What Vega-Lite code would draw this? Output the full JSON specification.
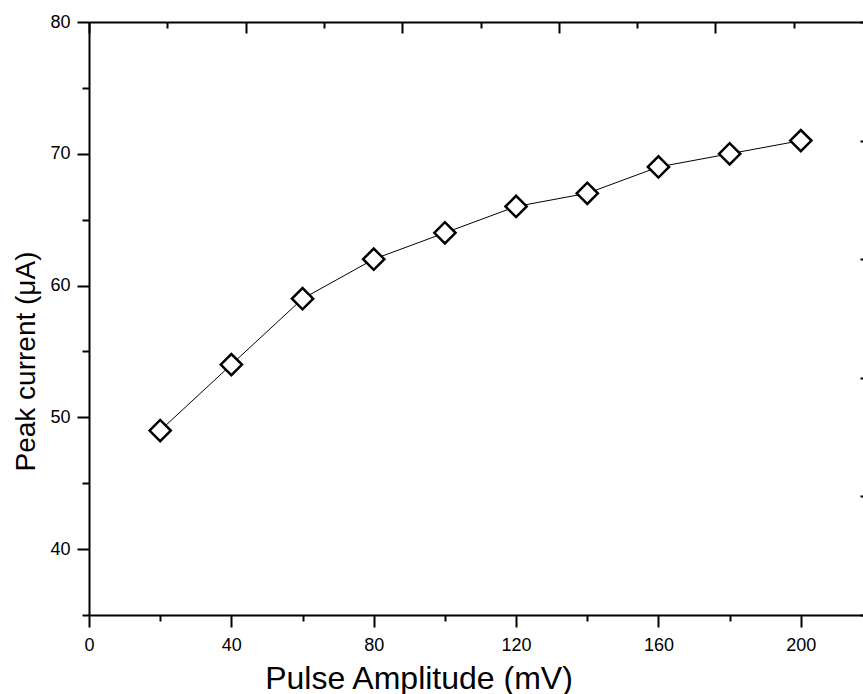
{
  "$schema": "https://vega.github.io/schema/vega-lite/v6.json",
  "width": 774,
  "height": 593,
  "autosize": {"type": "none"},
  "padding": {"left": 89, "top": 22, "right": 0, "bottom": 79},
  "background": "white",
  "config": {
    "view": {"stroke": null},
    "axis": {
      "domainColor": "black",
      "domainWidth": 2,
      "tickColor": "black",
      "tickWidth": 2,
      "labelColor": "black",
      "titleColor": "black",
      "labelFont": "Liberation Sans",
      "titleFont": "Liberation Sans",
      "labelFontSize": 18,
      "titleFontWeight": "normal",
      "grid": false,
      "labelOverlap": false,
      "labelBound": false,
      "labelFlush": false
    }
  },
  "data": {
    "values": [
      {"amplitude": 20, "current": 49},
      {"amplitude": 40, "current": 54},
      {"amplitude": 60, "current": 59},
      {"amplitude": 80, "current": 62},
      {"amplitude": 100, "current": 64},
      {"amplitude": 120, "current": 66},
      {"amplitude": 140, "current": 67},
      {"amplitude": 160, "current": 69},
      {"amplitude": 180, "current": 70},
      {"amplitude": 200, "current": 71}
    ]
  },
  "layer": [
    {
      "mark": {"type": "line", "color": "black", "strokeWidth": 1},
      "encoding": {
        "x": {
          "field": "amplitude",
          "type": "quantitative",
          "scale": {"domain": [0, 220], "range": [0, 783], "nice": false, "zero": false},
          "axis": {
            "orient": "bottom",
            "values": [0, 20, 40, 60, 80, 100, 120, 140, 160, 180, 200, 220],
            "labelExpr": "datum.value % 40 == 0 && datum.value <= 200 ? datum.label : ''",
            "tickSize": {"condition": {"test": "datum.value % 40 == 0", "value": 12}, "value": 6},
            "labelPadding": 9,
            "title": "Pulse Amplitude (mV)",
            "titleFontSize": 32,
            "titleX": 329.5,
            "titleY": 73,
            "titleAlign": "center",
            "titleBaseline": "alphabetic"
          }
        },
        "y": {
          "field": "current",
          "type": "quantitative",
          "scale": {"domain": [35, 80], "nice": false, "zero": false},
          "axis": {
            "orient": "left",
            "values": [35, 40, 45, 50, 55, 60, 65, 70, 75, 80],
            "labelExpr": "datum.value % 10 == 0 ? datum.label : ''",
            "tickSize": {"condition": {"test": "datum.value % 10 == 0", "value": 12}, "value": 7},
            "labelPadding": 7,
            "title": "Peak current (μA)",
            "titleFontSize": 28,
            "titleX": -55,
            "titleY": 339,
            "titleAngle": -90,
            "titleAlign": "center",
            "titleBaseline": "alphabetic"
          }
        }
      }
    },
    {
      "mark": {"type": "point", "shape": "diamond", "size": 450, "filled": true, "fill": "white", "stroke": "black", "strokeWidth": 2.5, "opacity": 1},
      "encoding": {
        "x": {"field": "amplitude", "type": "quantitative", "axis": null},
        "y": {"field": "current", "type": "quantitative", "axis": null}
      }
    },
    {
      "mark": {"type": "point", "opacity": 0},
      "encoding": {
        "x": {
          "field": "amplitude",
          "type": "quantitative",
          "axis": {
            "orient": "top",
            "values": [0, 22, 44, 66, 88, 110, 132, 154, 176, 198, 220],
            "labels": false,
            "title": null,
            "tickSize": {"condition": {"test": "datum.value % 44 == 0", "value": -11}, "value": -6}
          }
        },
        "y": {
          "field": "current",
          "type": "quantitative",
          "axis": {
            "orient": "right",
            "values": [35, 44, 53, 62, 71, 80],
            "labels": false,
            "title": null,
            "tickSize": -12,
            "offset": 9
          }
        }
      }
    }
  ],
  "resolve": {"axis": {"x": "independent", "y": "independent"}}
}
